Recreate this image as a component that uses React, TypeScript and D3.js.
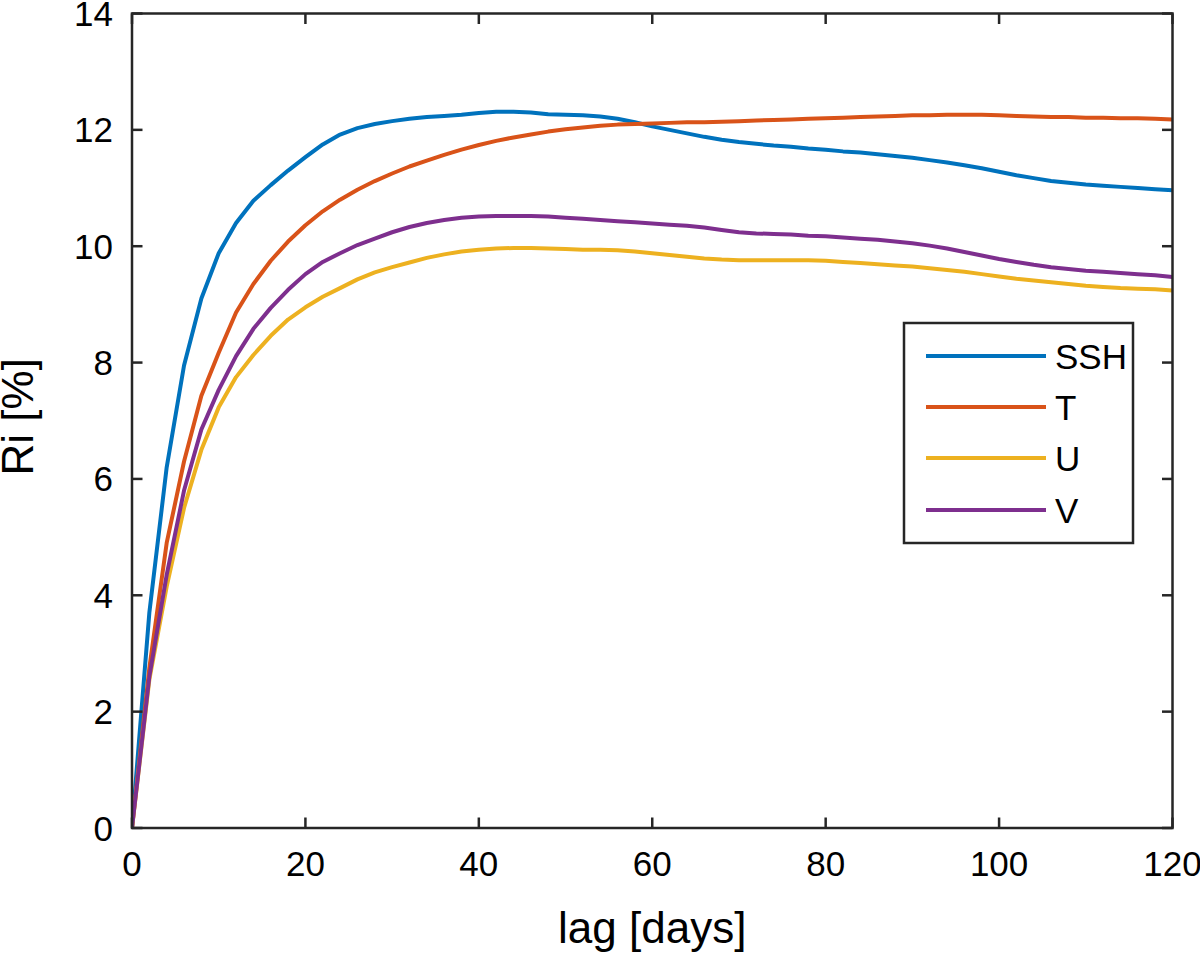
import React from "react";
import * as d3 from "d3";

const lags: number[] = d3.range(0, 121, 2);

const ssh: number[] = [
  0, 3.7, 6.2, 7.95, 9.1, 9.88, 10.4, 10.78, 11.05, 11.3, 11.53, 11.75, 11.92, 12.03, 12.1, 12.15,
  12.19, 12.22, 12.24, 12.26, 12.29, 12.31, 12.31, 12.3, 12.27, 12.26, 12.25, 12.23, 12.19, 12.13,
  12.06, 12.0, 11.94, 11.88, 11.83, 11.79, 11.76, 11.73, 11.71, 11.68, 11.66, 11.63, 11.61, 11.58,
  11.55, 11.52, 11.48, 11.44, 11.39, 11.34, 11.28, 11.22, 11.17, 11.12, 11.09, 11.06, 11.04, 11.02,
  11.0, 10.98, 10.96,
];

const tSeries: number[] = [
  0, 2.75, 4.9, 6.3, 7.43, 8.17, 8.86, 9.35, 9.75, 10.08, 10.36, 10.6, 10.8, 10.97, 11.12, 11.25,
  11.37, 11.47, 11.57, 11.66, 11.74, 11.81, 11.87, 11.92, 11.97, 12.01, 12.04, 12.07, 12.09, 12.1,
  12.11, 12.12, 12.13, 12.13, 12.14, 12.15, 12.16, 12.17, 12.18, 12.19, 12.2, 12.21, 12.22, 12.23,
  12.24, 12.25, 12.25, 12.26, 12.26, 12.26, 12.25, 12.24, 12.23, 12.22, 12.22, 12.21, 12.21, 12.2,
  12.2, 12.19, 12.18,
];

const uSeries: number[] = [
  0, 2.55, 4.15, 5.5, 6.5, 7.23, 7.75, 8.13, 8.46, 8.74, 8.95, 9.13, 9.28, 9.43, 9.55, 9.64, 9.72,
  9.8, 9.86, 9.91, 9.94, 9.96, 9.97, 9.97, 9.96, 9.95, 9.94, 9.94, 9.93, 9.91, 9.88, 9.85, 9.82,
  9.79, 9.77, 9.76, 9.76, 9.76, 9.76, 9.76, 9.75, 9.73, 9.71, 9.69, 9.67, 9.65, 9.62, 9.59, 9.56,
  9.52, 9.48, 9.44, 9.41, 9.38, 9.35, 9.32, 9.3, 9.28, 9.27, 9.26, 9.24,
];

const vSeries: number[] = [
  0, 2.6, 4.35, 5.8, 6.85, 7.53, 8.11, 8.58, 8.94, 9.25, 9.52, 9.73, 9.88, 10.02, 10.13, 10.24,
  10.33, 10.4, 10.45, 10.49, 10.51, 10.52, 10.52, 10.52, 10.51, 10.49, 10.47, 10.45, 10.43, 10.41,
  10.39, 10.37, 10.35, 10.32, 10.28, 10.24, 10.22, 10.21, 10.2, 10.18, 10.17, 10.15, 10.13, 10.11,
  10.08, 10.05, 10.01, 9.96, 9.9, 9.84, 9.78, 9.73, 9.68, 9.64, 9.61, 9.58, 9.56, 9.54, 9.52, 9.5,
  9.47,
];

const seriesNames: string[] = ["SSH", "T", "U", "V"];
const seriesColors: string[] = ["#0072BD", "#D95319", "#EDB120", "#7E2F8E"];
const seriesValues: number[][] = [ssh, tSeries, uSeries, vSeries];

const xTicks: number[] = [0, 20, 40, 60, 80, 100, 120];
const yTicks: number[] = [0, 2, 4, 6, 8, 10, 12, 14];

const W = 1200;
const H = 954;
const M = { left: 132, right: 1172.5, top: 13.5, bottom: 828 };
const FONT = "'Liberation Sans', Arial, Helvetica, sans-serif";
const AXIS = "#262626";
const TICK = 10.5;

export default function App() {
  const x = d3.scaleLinear().domain([0, 120]).range([M.left, M.right]);
  const y = d3.scaleLinear().domain([0, 14]).range([M.bottom, M.top]);
  const line = d3
    .line<number>()
    .x((_, i) => x(lags[i]))
    .y((d) => y(d));

  const legend = { x: 904, y: 323, w: 229, h: 220, rows: [356, 407, 458, 510] };

  return (
    <svg
      width={W}
      height={H}
      viewBox={`0 0 ${W} ${H}`}
      style={{ position: "absolute", left: 0, top: 0, background: "#fff" }}
      fontFamily={FONT}
    >
      <defs>
        <clipPath id="plotclip">
          <rect x={M.left} y={M.top} width={M.right - M.left} height={M.bottom - M.top} />
        </clipPath>
      </defs>
      <rect x={0} y={0} width={W} height={H} fill="#fff" />

      <g clipPath="url(#plotclip)">
        {seriesValues.map((vals, k) => (
          <path
            key={seriesNames[k]}
            d={line(vals) || ""}
            fill="none"
            stroke={seriesColors[k]}
            strokeWidth={4}
            strokeLinejoin="round"
          />
        ))}
      </g>

      {/* ticks */}
      <g stroke={AXIS} strokeWidth={2.5}>
        {xTicks.map((t) => (
          <g key={"xt" + t}>
            <line x1={x(t)} x2={x(t)} y1={M.bottom} y2={M.bottom - TICK} />
            <line x1={x(t)} x2={x(t)} y1={M.top} y2={M.top + TICK} />
          </g>
        ))}
        {yTicks.map((t) => (
          <g key={"yt" + t}>
            <line x1={M.left} x2={M.left + TICK} y1={y(t)} y2={y(t)} />
            <line x1={M.right} x2={M.right - TICK} y1={y(t)} y2={y(t)} />
          </g>
        ))}
      </g>
      <rect
        x={M.left}
        y={M.top}
        width={M.right - M.left}
        height={M.bottom - M.top}
        fill="none"
        stroke={AXIS}
        strokeWidth={2.5}
      />

      {/* tick labels */}
      <g fontSize={35} fill="#000">
        {xTicks.map((t) => (
          <text key={"xl" + t} x={x(t)} y={M.bottom + 48} textAnchor="middle">
            {t}
          </text>
        ))}
        {yTicks.map((t) => (
          <text key={"yl" + t} x={M.left - 19} y={y(t) + 12.5} textAnchor="end">
            {t}
          </text>
        ))}
      </g>

      {/* axis labels */}
      <text x={(M.left + M.right) / 2} y={943} fontSize={44} textAnchor="middle" fill="#000">
        lag [days]
      </text>
      <text
        transform={`translate(33, ${(M.top + M.bottom) / 2 - 4}) rotate(-90)`}
        fontSize={44}
        textAnchor="middle"
        fill="#000"
      >
        Ri [%]
      </text>

      {/* legend */}
      <rect
        x={legend.x}
        y={legend.y}
        width={legend.w}
        height={legend.h}
        fill="#fff"
        stroke={AXIS}
        strokeWidth={2.5}
      />
      {seriesNames.map((n, k) => (
        <g key={"lg" + n}>
          <line
            x1={926}
            x2={1046}
            y1={legend.rows[k]}
            y2={legend.rows[k]}
            stroke={seriesColors[k]}
            strokeWidth={4}
          />
          <text x={1055} y={legend.rows[k] + 12.5} fontSize={35} fill="#000">
            {n}
          </text>
        </g>
      ))}
    </svg>
  );
}
